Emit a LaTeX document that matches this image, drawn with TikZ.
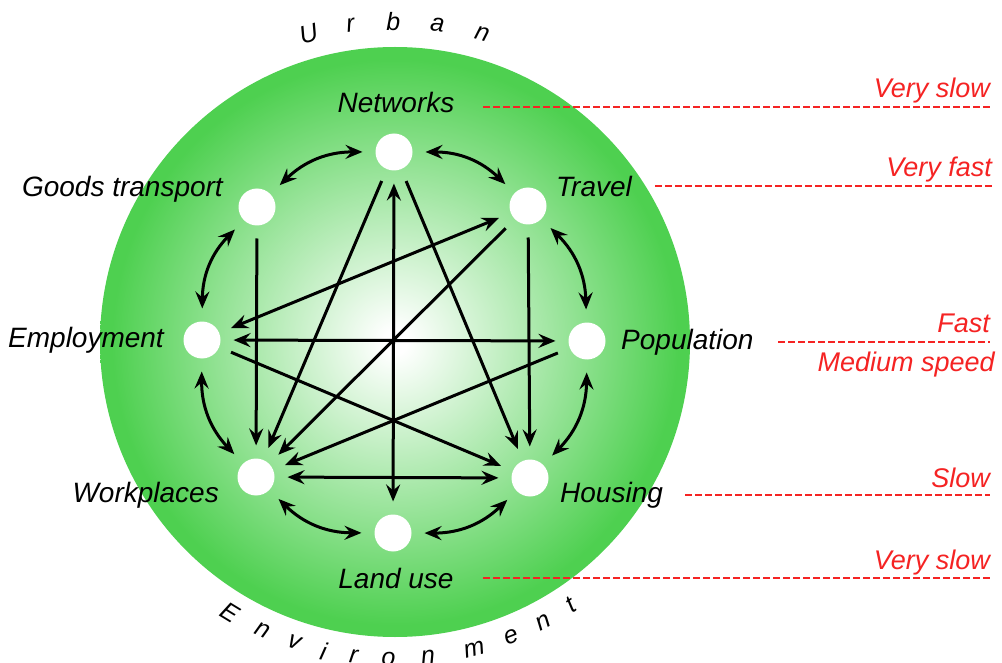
\documentclass[tikz,border=0pt]{standalone}
\usepackage{fontspec}
\setmainfont{Liberation Sans}
\usetikzlibrary{arrows.meta}
\definecolor{gball}{RGB}{78,208,80}
\definecolor{spdred}{RGB}{245,35,35}
\pgfdeclareradialshading{greenball}{\pgfpoint{0bp}{0bp}}{color(0bp)=(white);color(1bp)=(white);color(24bp)=(gball);color(50bp)=(gball)}
\begin{document}
\begin{tikzpicture}[x=1pt,y=-1pt,
  >={Stealth[length=17pt,width=14pt,inset=6pt]},
  site/.style={circle,fill=white,minimum size=37pt,inner sep=0pt,outer sep=13pt},
  lbl/.style={font=\fontsize{28}{30}\selectfont\itshape,inner sep=0pt},
  spd/.style={font=\fontsize{27}{30}\selectfont\itshape,text=spdred,inner sep=0pt},
  arc/.style={font=\fontsize{25}{28}\selectfont\itshape,inner sep=0pt},
  link/.style={line width=3pt,->},
  blink/.style={line width=3pt,<->},
  ring/.style={line width=3pt,<->,bend right=22},
  guide/.style={draw=spdred,line width=2.5pt,dash pattern=on 7pt off 3pt}]
\useasboundingbox (0,0) rectangle (1002,663);
\fill[white] (0,0) rectangle (1002,663);
% disc
\node[circle,minimum size=590pt,inner sep=0pt,shading=greenball] (disc) at (395,342) {};
% sites
\node[site] (net) at (394,152) {};
\node[site] (trav) at (528,206) {};
\node[site] (pop) at (587,341) {};
\node[site] (hous) at (530,478) {};
\node[site] (land) at (393,533) {};
\node[site] (work) at (256,477) {};
\node[site] (emp) at (202,340) {};
\node[site] (goods) at (257,207) {};
% labels
\node[lbl,anchor=base] (netl) at (396,113) {Networks};
\node[lbl,anchor=base west] (travl) at (556,197) {Travel};
\node[lbl,anchor=base west] (popl) at (621,349) {Population};
\node[lbl,anchor=base west] (housl) at (560,502) {Housing};
\node[lbl,anchor=base] (landl) at (396,588) {Land use};
\node[lbl,anchor=base east] (workl) at (219,502) {Workplaces};
\node[lbl,anchor=base east] (empl) at (164,348) {Employment};
\node[lbl,anchor=base east] (goodsl) at (223,197) {Goods transport};
% ring arrows
\draw[ring] (net) to (goods);
\draw[ring] (goods) to (emp);
\draw[ring] (emp) to (work);
\draw[ring] (work) to (land);
\draw[ring] (land) to (hous);
\draw[ring] (hous) to (pop);
\draw[ring] (pop) to (trav);
\draw[ring] (trav) to (net);
% straight arrows
\draw[link] (goods) -- (work);
\draw[link] (trav) -- (hous);
\draw[blink] (net) -- (land);
\draw[blink] (emp) -- (pop);
\draw[blink] (work) -- (hous);
\draw[link] (net) -- (work);
\draw[link] (net) -- (hous);
\draw[link] (trav) -- (work);
\draw[blink] (emp) -- (trav);
\draw[link] (pop) -- (work);
\draw[link] (emp) -- (hous);
% speed guides
\coordinate (g1a) at (483,107); \coordinate (g1b) at (990,107);
\coordinate (g2a) at (655,186); \coordinate (g2b) at (992,186);
\coordinate (g3a) at (778,342); \coordinate (g3b) at (990,342);
\coordinate (g4a) at (685,495); \coordinate (g4b) at (990,495);
\coordinate (g5a) at (483,578); \coordinate (g5b) at (990,578);
\draw[guide] (g1a) -- (g1b);
\draw[guide] (g2a) -- (g2b);
\draw[guide] (g3a) -- (g3b);
\draw[guide] (g4a) -- (g4b);
\draw[guide] (g5a) -- (g5b);
\node[spd,anchor=base east] (s1) at (990,98) {Very slow};
\node[spd,anchor=base east] (s2) at (992,177) {Very fast};
\node[spd,anchor=base east] (s3) at (990,333) {Fast};
\node[spd,anchor=base east] (s4) at (995,371) {Medium speed};
\node[spd,anchor=base east] (s5) at (990,487) {Slow};
\node[spd,anchor=base east] (s6) at (990,569) {Very slow};
% Urban
\foreach \ch/\ang [count=\i] in {U/105.7,r/98,b/90.3,a/82.4,n/74.2}
  \node[arc,rotate=\ang-90] (u\i) at ({395+320*cos(\ang)},{342-320*sin(\ang)}) {\ch};
% Environment
\foreach \ch/\ang [count=\i] in {E/238.6,n/245.4,v/251.5,i/257,r/262.5,o/268.8,n/276,m/284.5,e/291.6,n/298,t/303.8}
  \node[arc,rotate=\ang+90] (e\i) at ({395+317*cos(\ang)},{342-317*sin(\ang)}) {\ch};
\end{tikzpicture}
\end{document}
